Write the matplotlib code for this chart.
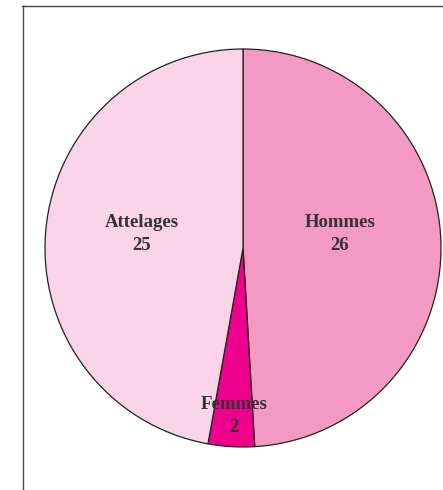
import matplotlib
matplotlib.use("Agg")
import matplotlib.pyplot as plt
from matplotlib.lines import Line2D

categories = ["Hommes", "Femmes", "Attelages"]
values = [26, 2, 25]
colors = ["#F49AC2", "#EC008C", "#F9D3E6"]
# label anchor points (data units, pie radius = 1)
label_pos = [(0.49, 0.07), (-0.045, -0.845), (-0.51, 0.07)]

fig = plt.figure(figsize=(4.43, 4.90), dpi=100)
ax = fig.add_axes([45 / 443, 43 / 490, 396 / 443, 398 / 490])
ax.pie(values, colors=colors, startangle=90, counterclock=False,
       wedgeprops=dict(edgecolor="#222222", linewidth=0.9))
ax.set_xlim(-1, 1)
ax.set_ylim(-1, 1)
ax.set_aspect("auto")
ax.axis("off")

for name, v, (x, y) in zip(categories, values, label_pos):
    ax.text(x, y, f"{name}\n{v}", ha="center", va="center",
            fontsize=13.5, fontweight="bold", family="Liberation Serif",
            color="#333333", linespacing=1.5)

# frame around the chart
fig.add_artist(Line2D([22.5 / 443, 22.5 / 443], [0, 1 - 6 / 490],
                      transform=fig.transFigure, color="#444444", lw=1.0))
fig.add_artist(Line2D([22 / 443, 1], [1 - 6 / 490, 1 - 6 / 490],
                      transform=fig.transFigure, color="#444444", lw=1.0))

fig.savefig("out.png", dpi=100)
